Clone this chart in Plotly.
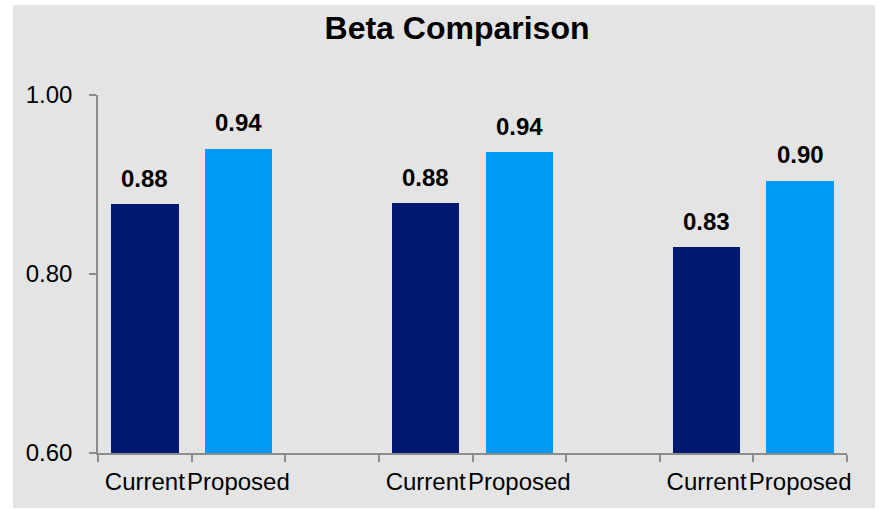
import plotly.graph_objects as go

categories = ["Current", "Proposed", "", "Current", "Proposed", "", "Current", "Proposed"]
current_vals = [0.878, 0.879, 0.830]
proposed_vals = [0.940, 0.936, 0.904]
current_pos = [0, 3, 6]
proposed_pos = [1, 4, 7]
y_ticks = [0.60, 0.80, 1.00]

NAVY = "#001A72"
BLUE = "#009AF7"
BG = "#E4E4E4"
AXIS = "#8C8C8C"
FONT = "Liberation Sans, Arial, sans-serif"

fig = go.Figure()
fig.add_trace(go.Bar(x=current_pos, y=current_vals, marker=dict(color=NAVY, line=dict(width=0)),
                     width=0.72, name="Current", showlegend=False, hoverinfo="skip"))
fig.add_trace(go.Bar(x=proposed_pos, y=proposed_vals, marker=dict(color=BLUE, line=dict(width=0)),
                     width=0.72, name="Proposed", showlegend=False, hoverinfo="skip"))

for xs, ys in ((current_pos, current_vals), (proposed_pos, proposed_vals)):
    for x, y in zip(xs, ys):
        fig.add_annotation(x=x, y=y, text=f"<b>{y:.2f}</b>", showarrow=False,
                           yanchor="middle", yshift=26,
                           font=dict(family=FONT, size=24, color="#000000"))

W, H = 879, 509
L, R, T, B = 98, 32, 95, 56
pw, ph = W - L - R, H - T - B

def px2x(px):
    return (px - L) / pw

def py2y(py):
    return (H - B - py) / ph

fig.add_shape(type="rect", xref="paper", yref="paper",
              x0=px2x(13), x1=px2x(875), y0=py2y(508), y1=py2y(5),
              fillcolor=BG, line=dict(width=0), layer="below")

fig.update_layout(
    width=W, height=H,
    margin=dict(l=L, r=R, t=T, b=B),
    paper_bgcolor="white",
    plot_bgcolor=BG,
    font=dict(family=FONT, size=24, color="#000000"),
    title=dict(text="<b>Beta Comparison</b>", x=px2x(457), xref="paper", xanchor="center",
               y=1 - 28 / H, yref="container", yanchor="middle",
               font=dict(family=FONT, size=32, color="#000000")),
    bargap=0,
)
fig.update_xaxes(
    range=[-0.5, 7.5],
    tickmode="array", tickvals=list(range(len(categories))), ticktext=categories,
    ticks="", showgrid=False, zeroline=False,
    showline=True, linecolor=AXIS, linewidth=1.5,
    tickfont=dict(family=FONT, size=24, color="#000000"),
    ticklabelstandoff=6,
    minor=dict(tickmode="array", tickvals=[i - 0.5 for i in range(len(categories) + 1)],
               ticks="outside", ticklen=7, tickcolor=AXIS, tickwidth=1.5, showgrid=False),
)
fig.update_yaxes(
    range=[0.6, 1.0],
    tickmode="array", tickvals=y_ticks, ticktext=[f"{v:.2f}" for v in y_ticks],
    ticks="outside", ticklen=7, tickcolor=AXIS, tickwidth=1.5,
    showgrid=False, zeroline=False,
    showline=True, linecolor=AXIS, linewidth=1.5,
    tickfont=dict(family=FONT, size=24, color="#000000"),
    ticklabelstandoff=12,
)

fig.write_html("out.html")
